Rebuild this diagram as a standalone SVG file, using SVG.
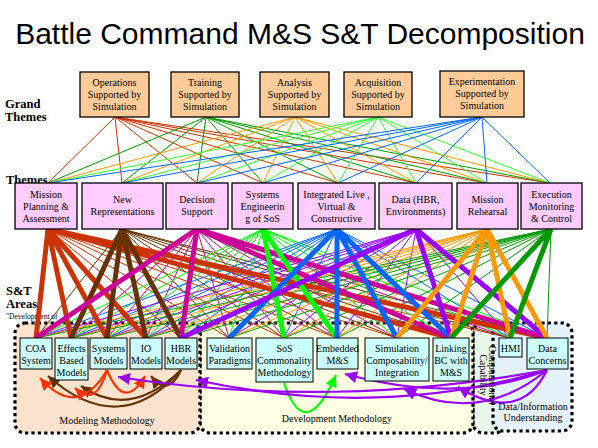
<svg xmlns="http://www.w3.org/2000/svg" width="598" height="448" viewBox="0 0 598 448">
<style>
.gtbox{fill:#FFCC99;stroke:#000;stroke-width:1.3}
.thbox{fill:#FFCCFF;stroke:#000;stroke-width:1.3}
.stbox{fill:#CCFFFF;stroke:#000;stroke-width:1}
.t{font-family:"Liberation Serif","Times New Roman",serif;font-size:10px;fill:#000;text-anchor:middle}
.lab{font-family:"Liberation Serif","Times New Roman",serif;font-size:12.5px;font-weight:bold;fill:#000}
.region{stroke:#000;stroke-width:3.2;stroke-dasharray:3.2 3.2}
.thin{fill:none;stroke-width:1}
.thick{fill:none;stroke-width:5}
.arr{fill:none;stroke-width:2.2}
</style>
<defs>
<marker id="aRed" markerUnits="userSpaceOnUse" markerWidth="14" markerHeight="12" refX="12" refY="6" orient="auto"><path d="M0,0L12,6L0,12z" fill="#FF3300"/></marker>
<marker id="aBrown" markerUnits="userSpaceOnUse" markerWidth="14" markerHeight="12" refX="12" refY="6" orient="auto"><path d="M0,0L12,6L0,12z" fill="#663300"/></marker>
<marker id="aPurple" markerUnits="userSpaceOnUse" markerWidth="14" markerHeight="12" refX="12" refY="6" orient="auto"><path d="M0,0L12,6L0,12z" fill="#9900FF"/></marker>
<marker id="aGreen" markerUnits="userSpaceOnUse" markerWidth="14" markerHeight="12" refX="12" refY="6" orient="auto"><path d="M0,0L12,6L0,12z" fill="#00FF00"/></marker>
</defs>
<rect width="598" height="448" fill="#fff"/>
<text x="300" y="44" text-anchor="middle" font-family="'Liberation Sans',Arial,sans-serif" font-size="30">Battle Command M&amp;S S&amp;T Decomposition</text>
<text class="lab" x="5" y="108">Grand</text>
<text class="lab" x="5" y="121">Themes</text>
<text class="lab" x="6" y="184">Themes</text>
<text class="lab" x="6" y="295">S&amp;T</text>
<text class="lab" x="6" y="308">Areas</text>
<text x="6" y="319" font-family="'Liberation Serif','Times New Roman',serif" font-size="7.5">"Development of</text>

<g id="regions">
<g id="computational-capability"><rect class="region" x="473" y="323" width="32" height="110" rx="10" fill="#E8F7EA"/></g>
<g id="development-methodology"><rect class="region" x="200" y="323" width="273" height="110" rx="10" fill="#FFFDE2"/></g>
<g id="modeling-methodology"><rect class="region" x="15" y="323" width="185" height="110" rx="10" fill="#FDE3CE"/></g>
<g id="data-information"><rect class="region" x="493" y="323" width="79" height="108" rx="10" fill="#E6F2FB"/></g>
</g>

<g id="connectors">
<path class="thin" stroke="#CC3300" d="M115,117L48,183M115,117L122,183M115,117L197,183M115,117L263,183M115,117L338,183M115,117L416,183M115,117L487,183M115,117L550,183"/>
<path class="thin" stroke="#009900" d="M206,117L48,183M206,117L122,183M206,117L197,183M206,117L263,183M206,117L338,183M206,117L416,183M206,117L487,183M206,117L550,183"/>
<path class="thin" stroke="#FF9900" d="M295,117L48,183M295,117L122,183M295,117L197,183M295,117L263,183M295,117L338,183M295,117L416,183M295,117L487,183M295,117L550,183"/>
<path class="thin" stroke="#33FF33" d="M378,117L48,183M378,117L122,183M378,117L197,183M378,117L263,183M378,117L338,183M378,117L416,183M378,117L487,183M378,117L550,183"/>
<path class="thin" stroke="#0066FF" d="M482,117L48,183M482,117L122,183M482,117L197,183M482,117L263,183M482,117L338,183M482,117L416,183M482,117L487,183M482,117L550,183"/>
<path class="thin" stroke="#CC3300" d="M48,229L181,338M48,229L229,338M48,229L284,338M48,229L337,338M48,229L397,338M48,229L510,338"/>
<path class="thin" stroke="#663300" d="M122,229L36,338M122,229L229,338M122,229L284,338M122,229L337,338M122,229L397,338M122,229L451,338M122,229L510,338M122,229L547,338"/>
<path class="thin" stroke="#CC0099" d="M197,229L71,338M197,229L107,338M197,229L146,338M197,229L229,338M197,229L284,338M197,229L337,338M197,229L397,338M197,229L510,338"/>
<path class="thin" stroke="#00FF00" d="M263,229L36,338M263,229L71,338M263,229L107,338M263,229L146,338M263,229L181,338M263,229L229,338M263,229L397,338M263,229L451,338M263,229L510,338M263,229L547,338"/>
<path class="thin" stroke="#0066FF" d="M337,229L36,338M337,229L71,338M337,229L107,338M337,229L146,338M337,229L181,338M337,229L284,338M337,229L510,338M337,229L547,338"/>
<path class="thin" stroke="#9900FF" d="M416,229L36,338M416,229L71,338M416,229L107,338M416,229L146,338M416,229L229,338M416,229L284,338M416,229L337,338M416,229L397,338M416,229L510,338"/>
<path class="thin" stroke="#FF9900" d="M487,229L36,338M487,229L71,338M487,229L107,338M487,229L146,338M487,229L181,338M487,229L229,338M487,229L284,338M487,229L337,338"/>
<path class="thin" stroke="#009900" d="M551,229L36,338M551,229L71,338M551,229L107,338M551,229L146,338M551,229L181,338M551,229L229,338M551,229L284,338M551,229L337,338M551,229L397,338M551,229L547,338"/>
<path class="thick" stroke="#CC3300" d="M48,229L36,338M48,229L71,338M48,229L107,338M48,229L146,338M48,229L451,338M48,229L547,338"/>
<path class="thick" stroke="#663300" d="M122,229L71,338M122,229L107,338M122,229L146,338M122,229L181,338"/>
<path class="thick" stroke="#CC0099" d="M197,229L36,338M197,229L181,338M197,229L451,338M197,229L547,338"/>
<path class="thick" stroke="#00FF00" d="M263,229L284,338M263,229L337,338"/>
<path class="thick" stroke="#0066FF" d="M337,229L229,338M337,229L337,338M337,229L397,338M337,229L451,338"/>
<path class="thick" stroke="#9900FF" d="M416,229L181,338M416,229L451,338M416,229L547,338"/>
<path class="thick" stroke="#FF9900" d="M487,229L397,338M487,229L451,338M487,229L510,338M487,229L547,338"/>
<path class="thick" stroke="#009900" d="M551,229L451,338M551,229L510,338"/>
<path class="arr" stroke="#663300" marker-end="url(#aBrown)" d="M181,370Q120,440 48,376"/>
<path class="arr" stroke="#663300" marker-end="url(#aBrown)" d="M181,370Q130,420 81,386"/>
<path class="arr" stroke="#663300" marker-end="url(#aBrown)" d="M181,370Q168,398 151,376"/>
<path class="arr" stroke="#FF3300" marker-end="url(#aRed)" d="M107,370Q78,420 40,378"/>
<path class="arr" stroke="#FF3300" marker-end="url(#aRed)" d="M107,370Q96,408 75,388"/>
<path class="arr" stroke="#FF3300" marker-end="url(#aRed)" d="M107,370Q124,412 145,376"/>
<path class="arr" stroke="#00FF00" marker-end="url(#aGreen)" d="M284,383Q305,445 336,375"/>
<path class="arr" stroke="#9900FF" marker-end="url(#aPurple)" d="M547,370Q330,410 118,377"/>
<path class="arr" stroke="#9900FF" marker-end="url(#aPurple)" d="M547,370Q380,420 196,380"/>
<path class="arr" stroke="#9900FF" marker-end="url(#aPurple)" d="M547,370Q460,405 345,374"/>
<path class="arr" stroke="#9900FF" marker-end="url(#aPurple)" d="M547,370Q480,425 404,389"/>
<path class="arr" stroke="#9900FF" marker-end="url(#aPurple)" d="M547,370Q520,425 458,387"/>
</g>

<g id="grand-themes">
<g id="gt-operations"><rect class="gtbox" x="80" y="72" width="69" height="45"/><text class="t" x="114.5" y="86">Operations</text><text class="t" x="114.5" y="98">Supported by</text><text class="t" x="114.5" y="110">Simulation</text></g>
<g id="gt-training"><rect class="gtbox" x="171" y="72" width="68" height="45"/><text class="t" x="205" y="86">Training</text><text class="t" x="205" y="98">Supported by</text><text class="t" x="205" y="110">Simulation</text></g>
<g id="gt-analysis"><rect class="gtbox" x="260" y="72" width="69" height="45"/><text class="t" x="294.5" y="86">Analysis</text><text class="t" x="294.5" y="98">Supported by</text><text class="t" x="294.5" y="110">Simulation</text></g>
<g id="gt-acquisition"><rect class="gtbox" x="344" y="72" width="68" height="45"/><text class="t" x="378" y="86">Acquisition</text><text class="t" x="378" y="98">Supported by</text><text class="t" x="378" y="110">Simulation</text></g>
<g id="gt-experimentation"><rect class="gtbox" x="440" y="71" width="84" height="46"/><text class="t" x="482" y="85">Experimentation</text><text class="t" x="482" y="97">Supported by</text><text class="t" x="482" y="109">Simulation</text></g>
</g>

<g id="themes">
<g id="th-mission-planning"><rect class="thbox" x="15" y="183" width="62" height="46"/><text class="t" x="46" y="198">Mission</text><text class="t" x="46" y="210">Planning &amp;</text><text class="t" x="46" y="222">Assessment</text></g>
<g id="th-new-representations"><rect class="thbox" x="82" y="183" width="81" height="46"/><text class="t" x="122.5" y="203">New</text><text class="t" x="122.5" y="215">Representations</text></g>
<g id="th-decision-support"><rect class="thbox" x="166" y="183" width="62" height="46"/><text class="t" x="197" y="203">Decision</text><text class="t" x="197" y="215">Support</text></g>
<g id="th-systems-engineering"><rect class="thbox" x="232" y="183" width="61" height="46"/><text class="t" x="262.5" y="198">Systems</text><text class="t" x="262.5" y="210">Engineerin</text><text class="t" x="262.5" y="222">g of SoS</text></g>
<g id="th-integrated-lvc"><rect class="thbox" x="298" y="183" width="77" height="46"/><text class="t" x="336.5" y="198">Integrated Live ,</text><text class="t" x="336.5" y="210">Virtual &amp;</text><text class="t" x="336.5" y="222">Constructive</text></g>
<g id="th-data"><rect class="thbox" x="379" y="183" width="73" height="46"/><text class="t" x="415.5" y="203">Data (HBR,</text><text class="t" x="415.5" y="215">Environments)</text></g>
<g id="th-mission-rehearsal"><rect class="thbox" x="457" y="183" width="61" height="46"/><text class="t" x="487.5" y="203">Mission</text><text class="t" x="487.5" y="215">Rehearsal</text></g>
<g id="th-execution-monitoring"><rect class="thbox" x="521" y="183" width="61" height="46"/><text class="t" x="551.5" y="198">Execution</text><text class="t" x="551.5" y="210">Monitoring</text><text class="t" x="551.5" y="222">&amp; Control</text></g>
</g>

<g id="st-areas">
<g id="st-coa"><rect class="stbox" x="20" y="338" width="32" height="31"/><text class="t" x="36" y="352">COA</text><text class="t" x="36" y="364">System</text></g>
<g id="st-effects"><rect class="stbox" x="55" y="338" width="33" height="42"/><text class="t" x="71.5" y="352">Effects</text><text class="t" x="71.5" y="364">Based</text><text class="t" x="71.5" y="376">Models</text></g>
<g id="st-systems-models"><rect class="stbox" x="90" y="338" width="37" height="31"/><text class="t" x="108.5" y="352">Systems</text><text class="t" x="108.5" y="364">Models</text></g>
<g id="st-io-models"><rect class="stbox" x="130" y="338" width="32" height="31"/><text class="t" x="146" y="352">IO</text><text class="t" x="146" y="364">Models</text></g>
<g id="st-hbr-models"><rect class="stbox" x="165" y="338" width="32" height="31"/><text class="t" x="181" y="352">HBR</text><text class="t" x="181" y="364">Models</text></g>
<g id="st-validation"><rect class="stbox" x="207" y="338" width="45" height="31"/><text class="t" x="229.5" y="352">Validation</text><text class="t" x="229.5" y="364">Paradigms</text></g>
<g id="st-sos-commonality"><rect class="stbox" x="256" y="338" width="57" height="44"/><text class="t" x="284.5" y="352">SoS</text><text class="t" x="284.5" y="364">Commonality</text><text class="t" x="284.5" y="376">Methodology</text></g>
<g id="st-embedded"><rect class="stbox" x="317" y="338" width="41" height="31"/><text class="t" x="337.5" y="352">Embedded</text><text class="t" x="337.5" y="364">M&amp;S</text></g>
<g id="st-composability"><rect class="stbox" x="365" y="338" width="64" height="43"/><text class="t" x="397" y="352">Simulation</text><text class="t" x="397" y="364">Composability/</text><text class="t" x="397" y="376">Integration</text></g>
<g id="st-linking"><rect class="stbox" x="433" y="338" width="36" height="43"/><text class="t" x="451" y="352">Linking</text><text class="t" x="451" y="364">BC with</text><text class="t" x="451" y="376">M&amp;S</text></g>
<g id="st-hmi"><rect class="stbox" x="499" y="338" width="23" height="19"/><text class="t" x="510.5" y="352">HMI</text></g>
<g id="st-data-concerns"><rect class="stbox" x="527" y="338" width="41" height="31"/><text class="t" x="547.5" y="352">Data</text><text class="t" x="547.5" y="364">Concerns</text></g>
</g>

<g id="region-labels">
<text class="t" x="107" y="424">Modeling Methodology</text>
<text class="t" x="337" y="422">Development Methodology</text>
<text class="t" transform="translate(489,375) rotate(90)" x="0" y="0">Computational</text>
<text class="t" transform="translate(480,375) rotate(90)" x="0" y="0">Capability</text>
<text class="t" x="533" y="410">Data/Information</text>
<text class="t" x="533" y="421">Understanding</text>
</g>
</svg>
